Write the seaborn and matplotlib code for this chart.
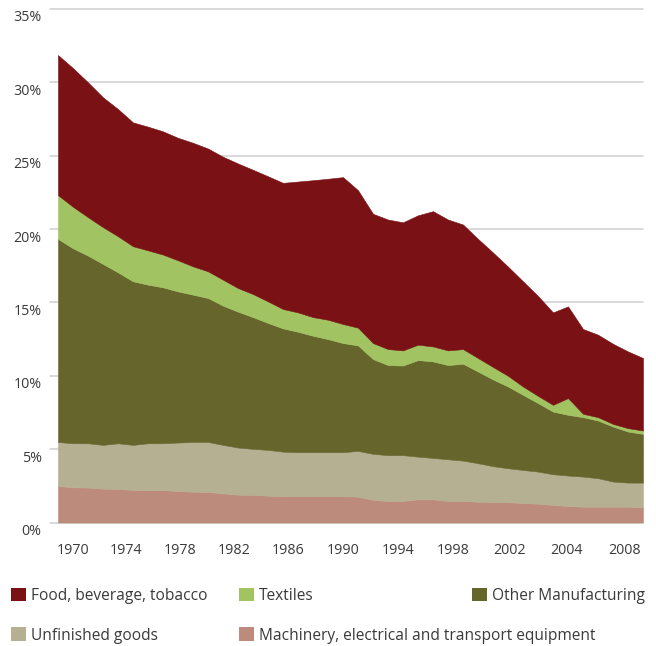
import matplotlib
matplotlib.use("Agg")
import matplotlib.pyplot as plt
import seaborn as sns
from matplotlib.patches import Patch
from matplotlib.transforms import ScaledTranslation

# ---------------- data (share of total, %) ----------------
years = list(range(1969, 2009))

food = [9.55, 9.45, 9.19, 8.85, 8.67, 8.44, 8.43, 8.40, 8.35, 8.42,
        8.37, 8.38, 8.49, 8.47, 8.53, 8.60, 8.92, 9.33, 9.61, 10.01,
        9.37, 8.81, 8.83, 8.73, 8.82, 9.22, 8.92, 8.49, 8.12, 7.80,
        7.44, 7.17, 6.81, 6.30, 6.25, 5.78, 5.62, 5.46, 5.23, 4.94]

textiles = [2.98, 2.83, 2.62, 2.51, 2.46, 2.39, 2.34, 2.23, 2.12, 1.93,
            1.82, 1.77, 1.61, 1.57, 1.47, 1.32, 1.32, 1.27, 1.32, 1.30,
            1.21, 1.09, 1.09, 1.03, 1.05, 1.02, 1.00, 1.00, 0.92, 0.85,
            0.73, 0.57, 0.49, 0.46, 1.14, 0.23, 0.23, 0.18, 0.23, 0.23]

other = [13.84, 13.29, 12.79, 12.33, 11.65, 11.15, 10.81, 10.63, 10.30, 10.04,
         9.81, 9.49, 9.26, 8.98, 8.65, 8.40, 8.21, 7.94, 7.71, 7.44,
         7.19, 6.46, 6.14, 6.11, 6.58, 6.58, 6.42, 6.60, 6.25, 5.91,
         5.57, 5.12, 4.67, 4.27, 4.14, 4.05, 3.93, 3.75, 3.48, 3.32]

unfinished = [3.00, 3.00, 3.02, 2.98, 3.11, 3.07, 3.20, 3.20, 3.30, 3.39,
              3.41, 3.30, 3.21, 3.14, 3.12, 3.04, 3.00, 3.00, 3.00, 3.00,
              3.12, 3.14, 3.12, 3.12, 2.91, 2.82, 2.84, 2.75, 2.62, 2.44,
              2.32, 2.25, 2.19, 2.09, 2.08, 2.05, 1.94, 1.71, 1.64, 1.70]

machinery = [2.49, 2.40, 2.38, 2.31, 2.29, 2.22, 2.20, 2.20, 2.15, 2.10,
             2.08, 1.99, 1.90, 1.88, 1.83, 1.79, 1.79, 1.79, 1.79, 1.79,
             1.76, 1.54, 1.47, 1.47, 1.58, 1.58, 1.47, 1.47, 1.42, 1.40,
             1.38, 1.33, 1.28, 1.20, 1.12, 1.08, 1.08, 1.08, 1.08, 1.02]

series_labels = ["Machinery, electrical and transport equipment", "Unfinished goods",
                 "Other Manufacturing", "Textiles", "Food, beverage, tobacco"]
series_colors = ["#BD8B7B", "#B5B092", "#66652C", "#A2C362", "#7A1114"]

x_tick_pos = [1970.0, 1973.55, 1977.13, 1980.73, 1984.33, 1988.0,
              1991.7, 1995.33, 1999.1, 2002.9, 2006.8]
x_tick_labels = ["1970", "1974", "1978", "1982", "1986", "1990",
                 "1994", "1998", "2002", "2004", "2008"]
y_ticks = [0, 5, 10, 15, 20, 25, 30, 35]
y_tick_labels = [f"{v}%" for v in y_ticks]

# ---------------- style ----------------
sns.set_theme(style="white")
plt.rcParams["font.family"] = ["Open Sans", "DejaVu Sans"]
text_color = "#3a3a3a"

W, H = 656, 646
fig = plt.figure(figsize=(W / 100, H / 100), dpi=100)
ax = fig.add_axes([50 / W, 1 - 522.5 / H, (643 - 50) / W, (522.5 - 9) / H])

polys = ax.stackplot(years, machinery, unfinished, other, textiles, food,
                     colors=series_colors, linewidth=0, zorder=2)
for p, c in zip(polys, series_colors):
    p.set_edgecolor(c)
    p.set_linewidth(0.4)

ax.set_xlim(1969 - 8 / 15, 2008)
ax.set_ylim(0, 35)
ax.set_yticks(y_ticks, y_tick_labels)
ax.set_xticks(x_tick_pos, x_tick_labels)

ax.yaxis.grid(True, color="#cfcfcf", linewidth=1.1)
ax.xaxis.grid(False)
ax.set_axisbelow(True)
for line in ax.get_ygridlines():
    line.set_clip_on(False)
for s in ax.spines.values():
    s.set_visible(False)

ax.tick_params(axis="both", length=0, labelsize=10.3, colors=text_color)
ax.tick_params(axis="y", pad=6)
ax.tick_params(axis="x", pad=15)
offset = ScaledTranslation(0, -5 / 72, fig.dpi_scale_trans)
for lab in ax.get_yticklabels():
    lab.set_transform(lab.get_transform() + offset)

# ---------------- legend ----------------
legend_order = [4, 3, 2, 1, 0]
legend_pos = [(11, 596), (239, 596), (472, 596), (11, 635.5), (239, 635.5)]
for idx, (lx, ly) in zip(legend_order, legend_pos):
    fig.legend(handles=[Patch(facecolor=series_colors[idx], edgecolor="none")],
               labels=[series_labels[idx]],
               loc="center left", bbox_to_anchor=(lx / W, 1 - ly / H),
               frameon=False, fontsize=11.2, labelcolor=text_color,
               handlelength=0.96, handleheight=0.96, handletextpad=0.32,
               borderpad=0, borderaxespad=0)

fig.savefig("out.png", dpi=100)
